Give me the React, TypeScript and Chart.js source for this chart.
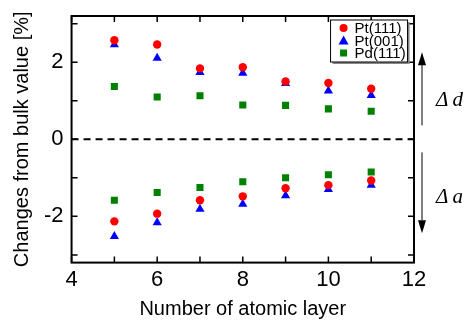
import React, { useEffect, useRef } from "react";
import { Chart, registerables } from "chart.js";

Chart.register(...registerables);

const layers = [5, 6, 7, 8, 9, 10, 11];
const pt111Upper = [2.57, 2.46, 1.84, 1.87, 1.5, 1.46, 1.31];
const pt111Lower = [-2.13, -1.93, -1.58, -1.48, -1.27, -1.19, -1.07];
const pt001Upper = [2.46, 2.11, 1.74, 1.72, 1.45, 1.26, 1.14];
const pt001Lower = [-2.52, -2.16, -1.81, -1.68, -1.46, -1.3, -1.19];
const pd111Upper = [1.37, 1.1, 1.13, 0.89, 0.88, 0.79, 0.73];
const pd111Lower = [-1.58, -1.38, -1.25, -1.1, -1.0, -0.92, -0.85];

const seriesNames = ["Pt(111)", "Pt(001)", "Pd(111)"];
const seriesColors = ["#ff0000", "#0000ff", "#008000"];
const seriesShapes = ["circle", "triangle", "rect"];

const xTitle = "Number of atomic layer";
const yTitle = "Changes from bulk value [%]";
const labelD = "\u0394\u2009d";
const labelA = "\u0394\u2009a";

const pts = (up: number[], lo: number[]) => [
  ...layers.map((x, i) => ({ x, y: up[i] })),
  ...layers.map((x, i) => ({ x, y: lo[i] })),
];

const decorPlugin = {
  id: "decor",
  afterDraw(chart: any) {
    const { ctx, chartArea: a, scales } = chart;
    const xs = scales.x;
    const ys = scales.y;
    ctx.save();
    // zero dashed line
    ctx.strokeStyle = "#000";
    ctx.lineWidth = 2;
    ctx.setLineDash([7, 5]);
    const y0 = ys.getPixelForValue(0);
    ctx.beginPath();
    ctx.moveTo(a.left, y0);
    ctx.lineTo(a.right, y0);
    ctx.stroke();
    ctx.setLineDash([]);
    // frame
    ctx.lineWidth = 2;
    ctx.strokeRect(a.left, a.top, a.right - a.left, a.bottom - a.top);
    // inward ticks
    ctx.lineWidth = 1.5;
    ctx.beginPath();
    for (let v = 4; v <= 12; v += 1) {
      const px = xs.getPixelForValue(v);
      const len = 6;
      ctx.moveTo(px, a.bottom);
      ctx.lineTo(px, a.bottom - len);
      ctx.moveTo(px, a.top);
      ctx.lineTo(px, a.top + len);
    }
    for (let v = -3; v <= 3; v += 1) {
      const py = ys.getPixelForValue(v);
      const len = 6;
      ctx.moveTo(a.left, py);
      ctx.lineTo(a.left + len, py);
      ctx.moveTo(a.right, py);
      ctx.lineTo(a.right - len, py);
    }
    ctx.stroke();
    // legend box
    const lx = a.left + 259;
    const ly = a.top + 4;
    const lw = 77;
    const lh = 42;
    ctx.fillStyle = "#888";
    ctx.fillRect(lx + 2, ly + 2, lw, lh);
    ctx.fillStyle = "#fff";
    ctx.fillRect(lx, ly, lw, lh);
    ctx.strokeStyle = "#000";
    ctx.lineWidth = 1;
    ctx.strokeRect(lx, ly, lw, lh);
    ctx.font = "15px 'Liberation Sans', Arial, sans-serif";
    ctx.textBaseline = "middle";
    ctx.textAlign = "left";
    for (let i = 0; i < 3; i++) {
      const cy = ly + 8 + i * 12.5;
      const cx = lx + 13;
      ctx.fillStyle = seriesColors[i];
      ctx.beginPath();
      if (i === 0) {
        ctx.arc(cx, cy, 4, 0, Math.PI * 2);
      } else if (i === 1) {
        ctx.moveTo(cx, cy - 5);
        ctx.lineTo(cx + 5, cy + 4);
        ctx.lineTo(cx - 5, cy + 4);
        ctx.closePath();
      } else {
        ctx.rect(cx - 3.5, cy - 3.5, 7, 7);
      }
      ctx.fill();
      ctx.fillStyle = "#000";
      ctx.fillText(seriesNames[i], lx + 24, cy + 1);
    }
    // arrows on the right
    const ax = a.right + 8;
    ctx.strokeStyle = "#000";
    ctx.fillStyle = "#000";
    ctx.lineWidth = 1;
    ctx.beginPath();
    ctx.moveTo(ax, ys.getPixelForValue(0.36));
    ctx.lineTo(ax, ys.getPixelForValue(2.0));
    ctx.moveTo(ax, ys.getPixelForValue(-0.34));
    ctx.lineTo(ax, ys.getPixelForValue(-2.1));
    ctx.stroke();
    const upTip = ys.getPixelForValue(2.26);
    ctx.beginPath();
    ctx.moveTo(ax, upTip);
    ctx.lineTo(ax + 4, upTip + 13);
    ctx.lineTo(ax - 4, upTip + 13);
    ctx.closePath();
    ctx.fill();
    const dnTip = ys.getPixelForValue(-2.44);
    ctx.beginPath();
    ctx.moveTo(ax, dnTip);
    ctx.lineTo(ax + 4, dnTip - 13);
    ctx.lineTo(ax - 4, dnTip - 13);
    ctx.closePath();
    ctx.fill();
    ctx.font = "italic 21px 'Liberation Serif', 'DejaVu Serif', serif";
    ctx.textAlign = "left";
    ctx.textBaseline = "middle";
    ctx.fillText(labelD, a.right + 22, ys.getPixelForValue(1.0));
    ctx.fillText(labelA, a.right + 22, ys.getPixelForValue(-1.5));
    ctx.restore();
  },
};

export default function App() {
  const ref = useRef<HTMLCanvasElement | null>(null);
  useEffect(() => {
    document.body.style.margin = "0";
    const font = "'Liberation Sans', Arial, sans-serif";
    const mk = (i: number, up: number[], lo: number[], r: number) => ({
      label: seriesNames[i],
      data: pts(up, lo),
      pointStyle: seriesShapes[i],
      pointRadius: r,
      backgroundColor: seriesColors[i],
      borderColor: seriesColors[i],
      borderWidth: 0,
      showLine: false,
    });
    const chart = new Chart(ref.current!, {
      type: "scatter",
      data: {
        datasets: [
          mk(0, pt111Upper, pt111Lower, 4.2),
          mk(1, pt001Upper, pt001Lower, 5.3),
          mk(2, pd111Upper, pd111Lower, 5),
        ],
      },
      options: {
        animation: false,
        responsive: false,
        layout: { padding: { top: 16, right: 56, left: 10, bottom: 2 } },
        plugins: { legend: { display: false }, tooltip: { enabled: false } },
        scales: {
          x: {
            type: "linear",
            min: 4,
            max: 12,
            grid: { display: false, drawTicks: false },
            border: { display: false },
            ticks: {
              stepSize: 2,
              color: "#000",
              font: { family: font, size: 22 },
              padding: 4,
            },
            title: {
              display: true,
              text: xTitle,
              color: "#000",
              font: { family: font, size: 20 },
              padding: { top: 0, bottom: 0 },
            },
          },
          y: {
            type: "linear",
            min: -3.2,
            max: 3.2,
            grid: { display: false, drawTicks: false },
            border: { display: false },
            ticks: {
              stepSize: 1,
              includeBounds: false,
              color: "#000",
              font: { family: font, size: 22 },
              padding: 8,
              callback: (v: any) => (Math.round(v) % 2 === 0 ? String(Math.round(v)) : []),
            },
            title: {
              display: true,
              text: yTitle,
              color: "#000",
              font: { family: font, size: 20 },
              padding: { top: 0, bottom: 2 },
            },
          },
        },
      },
      plugins: [decorPlugin],
    } as any);
    return () => chart.destroy();
  }, []);
  return (
    <div style={{ width: 470, height: 323, background: "#fff" }}>
      <canvas ref={ref} width={470} height={323} style={{ display: "block" }} />
    </div>
  );
}
